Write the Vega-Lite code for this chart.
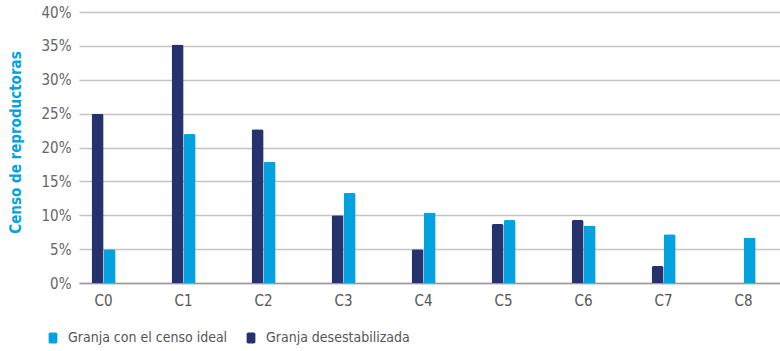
{
  "$schema": "https://vega.github.io/schema/vega-lite/v6.json",
  "width": 701,
  "height": 271,
  "autosize": {"type": "none"},
  "padding": {"left": 79, "top": 12, "right": 0, "bottom": 68},
  "background": "white",
  "data": {
    "values": [
      {"c": "C0", "serie": "Granja desestabilizada", "v": 0.25},
      {"c": "C1", "serie": "Granja desestabilizada", "v": 0.352},
      {"c": "C2", "serie": "Granja desestabilizada", "v": 0.227},
      {"c": "C3", "serie": "Granja desestabilizada", "v": 0.10},
      {"c": "C4", "serie": "Granja desestabilizada", "v": 0.05},
      {"c": "C5", "serie": "Granja desestabilizada", "v": 0.087},
      {"c": "C6", "serie": "Granja desestabilizada", "v": 0.093},
      {"c": "C7", "serie": "Granja desestabilizada", "v": 0.025},
      {"c": "C8", "serie": "Granja desestabilizada", "v": 0},
      {"c": "C0", "serie": "Granja con el censo ideal", "v": 0.05},
      {"c": "C1", "serie": "Granja con el censo ideal", "v": 0.22},
      {"c": "C2", "serie": "Granja con el censo ideal", "v": 0.179},
      {"c": "C3", "serie": "Granja con el censo ideal", "v": 0.133},
      {"c": "C4", "serie": "Granja con el censo ideal", "v": 0.104},
      {"c": "C5", "serie": "Granja con el censo ideal", "v": 0.093},
      {"c": "C6", "serie": "Granja con el censo ideal", "v": 0.085},
      {"c": "C7", "serie": "Granja con el censo ideal", "v": 0.072},
      {"c": "C8", "serie": "Granja con el censo ideal", "v": 0.067}
    ]
  },
  "mark": {"type": "bar", "cornerRadiusTopLeft": 2, "cornerRadiusTopRight": 2},
  "encoding": {
    "x": {
      "field": "c",
      "type": "nominal",
      "scale": {"paddingInner": 0.7, "paddingOuter": 0.231, "align": 0.34},
      "axis": {
        "title": null,
        "labelAngle": 0,
        "labelFont": "DejaVu Sans Condensed, Liberation Sans, sans-serif",
        "labelFontSize": 15,
        "labelColor": "#555555",
        "labelPadding": 10,
        "ticks": false,
        "domainColor": "#9a9a9a",
        "domainWidth": 1.5
      }
    },
    "xOffset": {
      "field": "serie",
      "type": "nominal",
      "scale": {"domain": ["Granja desestabilizada", "Granja con el censo ideal"], "paddingInner": 0}
    },
    "y": {
      "field": "v",
      "type": "quantitative",
      "scale": {"domain": [0, 0.4]},
      "axis": {
        "title": "Censo de reproductoras",
        "titleFont": "DejaVu Sans Condensed, Liberation Sans, sans-serif",
        "titleFontSize": 15,
        "titleFontWeight": "bold",
        "titleColor": "#00a3e0",
        "titlePadding": 18,
        "titleY": 130,
        "format": ".0%",
        "values": [0, 0.05, 0.1, 0.15, 0.2, 0.25, 0.3, 0.35, 0.4],
        "labelFont": "DejaVu Sans Condensed, Liberation Sans, sans-serif",
        "labelFontSize": 15,
        "labelColor": "#666666",
        "labelPadding": 8,
        "ticks": false,
        "domain": false,
        "gridColor": "#c4c4c4",
        "gridWidth": 1.5
      }
    },
    "color": {
      "field": "serie",
      "type": "nominal",
      "scale": {"domain": ["Granja con el censo ideal", "Granja desestabilizada"], "range": ["#00a3e0", "#25326e"]},
      "legend": {
        "title": null,
        "orient": "none",
        "direction": "horizontal",
        "legendX": -33,
        "legendY": 319,
        "symbolType": "M -0.5 -1 L 0.5 -1 Q 0.8 -1 0.8 -0.7 L 0.8 0.7 Q 0.8 1 0.5 1 L -0.5 1 Q -0.8 1 -0.8 0.7 L -0.8 -0.7 Q -0.8 -1 -0.5 -1 Z",
        "symbolSize": 120,
        "symbolStrokeWidth": 0,
        "labelFont": "DejaVu Sans Condensed, Liberation Sans, sans-serif",
        "labelFontSize": 14,
        "labelLimit": 400,
        "labelColor": "#555555",
        "labelOffset": 8,
        "columnPadding": 16
      }
    }
  },
  "config": {"view": {"stroke": null}}
}
